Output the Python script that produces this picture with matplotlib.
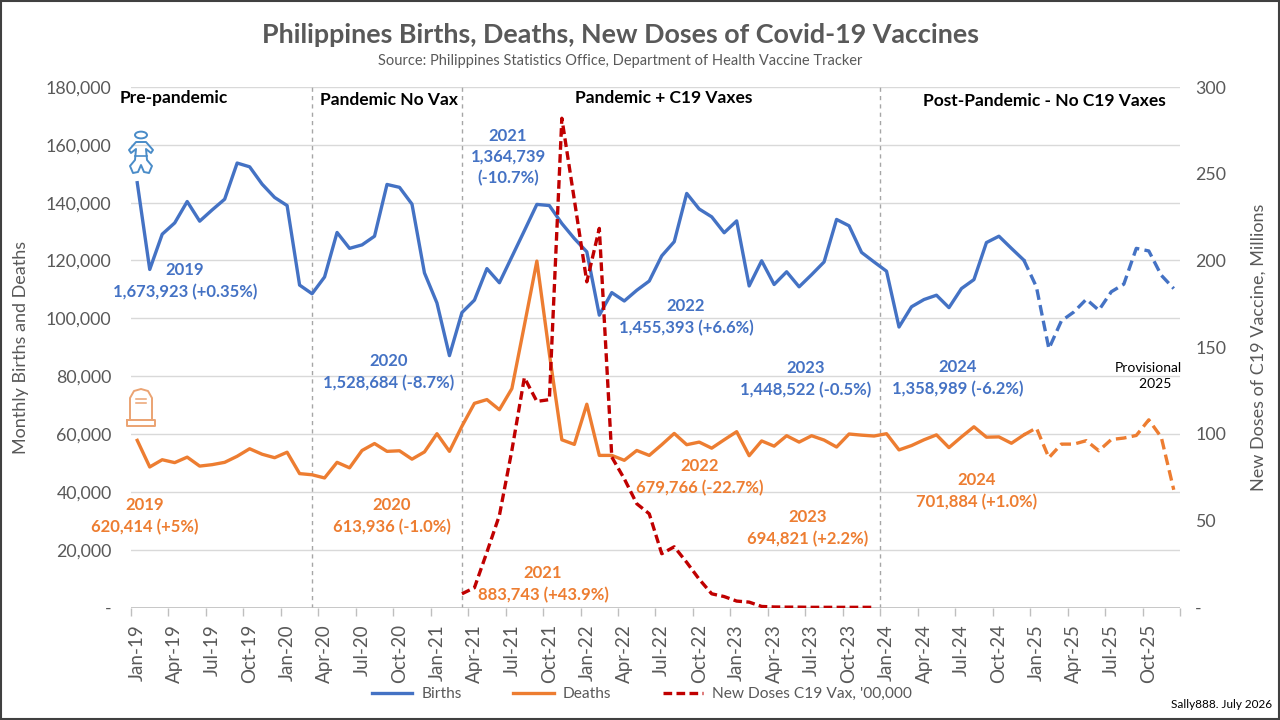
import matplotlib
matplotlib.use("Agg")
import matplotlib.pyplot as plt
from matplotlib.patches import Circle, Rectangle, Polygon
from matplotlib.lines import Line2D
import numpy as np

# ---------------- data ----------------
months = []
for yr in range(2019, 2026):
    for m in ["Jan", "Feb", "Mar", "Apr", "May", "Jun", "Jul", "Aug", "Sep", "Oct", "Nov", "Dec"]:
        months.append(f"{m}-{str(yr)[2:]}")

births = [146900, 116900, 129100, 133000, 140400, 133600, 137500, 141200, 153700, 152400, 146400, 141800,
          139000, 111500, 108500, 114300, 129700, 124200, 125400, 128400, 146300, 145300, 139500, 115700,
          105300, 87100, 102000, 106300, 117200, 112300, 121300, 130300, 139400, 139000, 132800, 127600,
          123000, 101100, 108900, 106000, 109700, 112900, 121600, 126500, 143200, 137800, 135100, 129600,
          133700, 111200, 119900, 111700, 116100, 110900, 115100, 119500, 134200, 132000, 122800, 119500,
          116300, 97000, 104000, 106500, 108000, 103700, 110300, 113400, 126200, 128400, 124200, 120100,
          110900, 89500, 99100, 102200, 106600, 102800, 109200, 111800, 124200, 123300, 114900, 110300]

deaths = [57800, 48600, 51100, 50100, 52000, 48900, 49400, 50200, 52300, 54900, 53000, 51800,
          53700, 46300, 45900, 44800, 50200, 48300, 54300, 56700, 54000, 54200, 51300, 53800,
          60100, 54000, 62700, 70600, 71900, 68400, 75700, 97600, 119800, 87800, 58000, 56400,
          70300, 52600, 52600, 50900, 54300, 52600, 56300, 60200, 56300, 57200, 55100, 58000,
          60800, 52500, 57600, 55800, 59400, 57200, 59400, 57900, 55500, 60000, 59600, 59300,
          60100, 54500, 56000, 58000, 59700, 55300, 59000, 62500, 58900, 59000, 56800, 59700,
          62100, 51800, 56500, 56500, 57700, 54200, 58100, 58600, 59500, 64900, 58900, 40700]

# New doses (right axis), Mar-21 .. Dec-23
vax_start = "Mar-21"
vax = [7.9, 11.4, 31.9, 53.1, 90.6, 132.5, 118.8, 119.8, 282.0, 235.0, 187.7, 218.5,
       86.7, 74.2, 59.8, 54.0, 31.0, 35.0, 26.0, 16.3, 7.9, 6.3, 3.7, 3.1,
       0.6, 0.3, 0.2, 0.2, 0.1, 0.1, 0.1, 0.1, 0.1, 0.1]

provisional_from = "Dec-24"
era_lines = [14, 26, 59.5]
era_labels = ["Pre-pandemic", "Pandemic No Vax", "Pandemic + C19 Vaxes", "Post-Pandemic - No C19 Vaxes"]

birth_notes = [("2019", "1,673,923 (+0.35%)"), ("2020", "1,528,684 (-8.7%)"),
               ("2021", "1,364,739\n(-10.7%)"), ("2022", "1,455,393 (+6.6%)"),
               ("2023", "1,448,522 (-0.5%)"), ("2024", "1,358,989 (-6.2%)")]
death_notes = [("2019", "620,414 (+5%)"), ("2020", "613,936 (-1.0%)"),
               ("2021", "883,743 (+43.9%)"), ("2022", "679,766 (-22.7%)"),
               ("2023", "694,821 (+2.2%)"), ("2024", "701,884 (+1.0%)")]

# ---------------- style ----------------
FONT = ["Lato", "DejaVu Sans"]
plt.rcParams["font.family"] = FONT
BLUE = "#4472C4"
ORANGE = "#ED7D31"
RED = "#C00000"
GRAY = "#595959"
GRID = "#D9D9D9"

W, H = 1280, 720
fig = plt.figure(figsize=(12.8, 7.2), dpi=100)


def P(x, y):
    return (x / W, 1 - y / H)


ax = fig.add_axes([131 / W, 1 - 607.5 / H, 1049 / W, 520.5 / H])
ax2 = ax.twinx()

x = np.arange(len(months))
pi = months.index(provisional_from)
ax.plot(x[:pi + 1], births[:pi + 1], color=BLUE, lw=2.4, solid_joinstyle="round", zorder=3)
ax.plot(x[pi:], births[pi:], color=BLUE, lw=2.4, ls=(0, (3.2, 1.6)), zorder=3)
ax.plot(x[:pi + 1], deaths[:pi + 1], color=ORANGE, lw=2.4, solid_joinstyle="round", zorder=3)
ax.plot(x[pi:], deaths[pi:], color=ORANGE, lw=2.4, ls=(0, (3.2, 1.6)), zorder=3)

vi = months.index(vax_start)
ax2.plot(x[vi:vi + len(vax)], vax, color=RED, lw=2.4, ls=(0, (2.6, 1.3)), zorder=4)

ax.set_xlim(-0.5, len(months) - 0.5)
ax.set_ylim(0, 180000)
ax2.set_ylim(0, 300)
ax.set_yticks(range(0, 180001, 20000))
ax.set_yticklabels(["-" if v == 0 else f"{v:,}" for v in range(0, 180001, 20000)])
ax2.set_yticks(range(0, 301, 50))
ax2.set_yticklabels(["-" if v == 0 else f"{v}" for v in range(0, 301, 50)])

ax.set_xticks(x[::3])
ax.set_xticklabels(months[::3], rotation=90)
ax.set_xticks(np.arange(-0.5, len(months), 3), minor=True)
ax.tick_params(axis="x", which="major", length=0, pad=12, labelsize=13.5, labelcolor=GRAY)
ax.tick_params(axis="x", which="minor", length=6, color="#BFBFBF", width=1)
ax.tick_params(axis="y", length=0, pad=14, labelsize=12.8, labelcolor=GRAY)
ax2.tick_params(axis="y", length=0, pad=11, labelsize=12.8, labelcolor=GRAY)

ax.grid(axis="y", color=GRID, lw=1)
ax.set_axisbelow(True)
for a in (ax, ax2):
    for s in ["top", "left", "right", "bottom"]:
        a.spines[s].set_visible(False)
ax.axhline(0, color="#BFBFBF", lw=1.2, zorder=2)

for xl in era_lines:
    ax.axvline(xl, color="#A6A6A6", lw=1, ls=(0, (3, 3)), zorder=1)

ax.set_ylabel("Monthly Births and Deaths", fontsize=13, color=GRAY)
ax2.set_ylabel("New Doses of C19 Vaccine, Millions", fontsize=13, color=GRAY)
ax.yaxis.set_label_coords(-0.097, 0.5)
ax2.yaxis.set_label_coords(1.067, 0.5)

# ---------------- titles ----------------
fig.text(*P(620, 35), "Philippines Births, Deaths, New Doses of Covid-19 Vaccines",
         ha="center", va="center", fontsize=19.4, fontweight="bold", color=GRAY)
fig.text(*P(620, 61), "Source: Philippines Statistics Office, Department of Health Vaccine Tracker",
         ha="center", va="center", fontsize=10.5, color=GRAY)

era_pos = [(120, 98, "left"), (320, 100, "left"), (664, 98, "center"), (1166, 101, "right")]
for (px_, py_, ha), lab in zip(era_pos, era_labels):
    fig.text(*P(px_, py_), lab, ha=ha, va="center", fontsize=12.5, fontweight="bold", color="black")

bpos = [(185, 281), (389, 372), (508, 157), (686, 317), (806, 379), (958, 378)]
for (px_, py_), (yr, val) in zip(bpos, birth_notes):
    fig.text(*P(px_, py_), yr + "\n" + val, ha="center", va="center", fontsize=12, fontweight="bold",
             color=BLUE, linespacing=1.4)

dpos = [(145, 516), (392, 516), (543, 584), (700, 477), (808, 528), (977, 491)]
for (px_, py_), (yr, val) in zip(dpos, death_notes):
    fig.text(*P(px_, py_), yr + "\n" + val, ha="center", va="center", fontsize=12,
             fontweight="bold", color=ORANGE, linespacing=1.4)

fig.text(*P(1148, 376), "Provisional\n    2025", ha="center", va="center", fontsize=10,
         color="black", linespacing=1.5)

# ---------------- icons ----------------
ic_b = "#4A8CC8"
ic_d = "#EBA372"
fig.patches.append(Circle(P(141, 135), 6 / W, transform=fig.transFigure, fill=False,
                          ec=ic_b, lw=1.4))
body = [P(136, 142), P(146, 142), P(153, 150), P(151, 153), P(146, 149), P(147, 160),
        P(152, 166), P(149, 173), P(144, 172), P(141, 165), P(138, 172), P(133, 173),
        P(130, 166), P(135, 160), P(136, 149), P(131, 153), P(129, 150)]
fig.patches.append(Polygon(body, closed=True, transform=fig.transFigure, fill=False,
                           ec=ic_b, lw=1.4, joinstyle="round"))
fig.lines.append(Line2D([P(135, 156)[0], P(147, 156)[0]], [P(135, 156)[1], P(147, 156)[1]],
                        transform=fig.transFigure, color=ic_b, lw=1.2))
tomb = [P(130, 420), P(130, 398), P(134, 391), P(141, 389), P(148, 391), P(152, 398), P(152, 420)]
fig.lines.append(Line2D([p[0] for p in tomb], [p[1] for p in tomb], transform=fig.transFigure,
                        color=ic_d, lw=1.4))
base = [P(127, 420), P(155, 420), P(155, 426), P(127, 426), P(127, 420)]
fig.lines.append(Line2D([p[0] for p in base], [p[1] for p in base], transform=fig.transFigure,
                        color=ic_d, lw=1.4))
for yy in (399, 403):
    fig.lines.append(Line2D([P(136, yy)[0], P(146, yy)[0]], [P(136, yy)[1], P(146, yy)[1]],
                            transform=fig.transFigure, color=ic_d, lw=1.1))

# ---------------- legend ----------------
handles = [Line2D([], [], color=BLUE, lw=2.4), Line2D([], [], color=ORANGE, lw=2.4),
           Line2D([], [], color=RED, lw=2.4, ls=(0, (2.6, 1.3)))]
leg = fig.legend(handles, ["Births", "Deaths", "New Doses C19 Vax, '00,000"],
                 loc="center", bbox_to_anchor=P(642, 694), ncol=3, frameon=False,
                 fontsize=11.2, handlelength=2.6, columnspacing=3.3, handletextpad=0.6)
for t in leg.get_texts():
    t.set_color(GRAY)

fig.text(*P(1272, 704), "Sally888. July 2026", ha="right", va="center", fontsize=8.5, color="black")

fig.patches.append(Rectangle((0.0008, 0.001), 0.9984, 0.997, transform=fig.transFigure,
                             fill=False, ec="#404040", lw=1.5))

fig.savefig("out.png", dpi=100, facecolor="white")
